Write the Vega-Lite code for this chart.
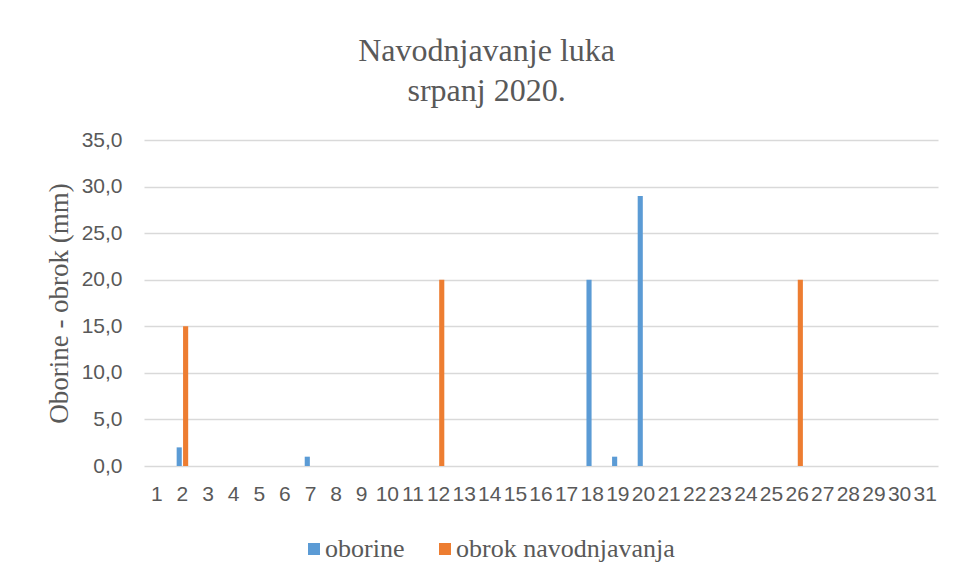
{
  "$schema": "https://vega.github.io/schema/vega-lite/v6.json",
  "autosize": "none",
  "width": 794,
  "height": 326,
  "padding": {"left": 144, "top": 140, "right": 15, "bottom": 117},
  "background": "white",
  "title": {
    "text": ["Navodnjavanje luka", "srpanj 2020."],
    "font": "Liberation Serif",
    "fontSize": 32,
    "fontWeight": "normal",
    "color": "#595959",
    "lineHeight": 40,
    "anchor": "middle",
    "frame": "bounds",
    "offset": 21,
    "dx": -5
  },
  "data": {
    "values": [
      {"dan": 1, "serija": "oborine", "mm": 0}, {"dan": 1, "serija": "obrok navodnjavanja", "mm": 0},
      {"dan": 2, "serija": "oborine", "mm": 2}, {"dan": 2, "serija": "obrok navodnjavanja", "mm": 15},
      {"dan": 3, "serija": "oborine", "mm": 0}, {"dan": 3, "serija": "obrok navodnjavanja", "mm": 0},
      {"dan": 4, "serija": "oborine", "mm": 0}, {"dan": 4, "serija": "obrok navodnjavanja", "mm": 0},
      {"dan": 5, "serija": "oborine", "mm": 0}, {"dan": 5, "serija": "obrok navodnjavanja", "mm": 0},
      {"dan": 6, "serija": "oborine", "mm": 0}, {"dan": 6, "serija": "obrok navodnjavanja", "mm": 0},
      {"dan": 7, "serija": "oborine", "mm": 1}, {"dan": 7, "serija": "obrok navodnjavanja", "mm": 0},
      {"dan": 8, "serija": "oborine", "mm": 0}, {"dan": 8, "serija": "obrok navodnjavanja", "mm": 0},
      {"dan": 9, "serija": "oborine", "mm": 0}, {"dan": 9, "serija": "obrok navodnjavanja", "mm": 0},
      {"dan": 10, "serija": "oborine", "mm": 0}, {"dan": 10, "serija": "obrok navodnjavanja", "mm": 0},
      {"dan": 11, "serija": "oborine", "mm": 0}, {"dan": 11, "serija": "obrok navodnjavanja", "mm": 0},
      {"dan": 12, "serija": "oborine", "mm": 0}, {"dan": 12, "serija": "obrok navodnjavanja", "mm": 20},
      {"dan": 13, "serija": "oborine", "mm": 0}, {"dan": 13, "serija": "obrok navodnjavanja", "mm": 0},
      {"dan": 14, "serija": "oborine", "mm": 0}, {"dan": 14, "serija": "obrok navodnjavanja", "mm": 0},
      {"dan": 15, "serija": "oborine", "mm": 0}, {"dan": 15, "serija": "obrok navodnjavanja", "mm": 0},
      {"dan": 16, "serija": "oborine", "mm": 0}, {"dan": 16, "serija": "obrok navodnjavanja", "mm": 0},
      {"dan": 17, "serija": "oborine", "mm": 0}, {"dan": 17, "serija": "obrok navodnjavanja", "mm": 0},
      {"dan": 18, "serija": "oborine", "mm": 20}, {"dan": 18, "serija": "obrok navodnjavanja", "mm": 0},
      {"dan": 19, "serija": "oborine", "mm": 1}, {"dan": 19, "serija": "obrok navodnjavanja", "mm": 0},
      {"dan": 20, "serija": "oborine", "mm": 29}, {"dan": 20, "serija": "obrok navodnjavanja", "mm": 0},
      {"dan": 21, "serija": "oborine", "mm": 0}, {"dan": 21, "serija": "obrok navodnjavanja", "mm": 0},
      {"dan": 22, "serija": "oborine", "mm": 0}, {"dan": 22, "serija": "obrok navodnjavanja", "mm": 0},
      {"dan": 23, "serija": "oborine", "mm": 0}, {"dan": 23, "serija": "obrok navodnjavanja", "mm": 0},
      {"dan": 24, "serija": "oborine", "mm": 0}, {"dan": 24, "serija": "obrok navodnjavanja", "mm": 0},
      {"dan": 25, "serija": "oborine", "mm": 0}, {"dan": 25, "serija": "obrok navodnjavanja", "mm": 0},
      {"dan": 26, "serija": "oborine", "mm": 0}, {"dan": 26, "serija": "obrok navodnjavanja", "mm": 20},
      {"dan": 27, "serija": "oborine", "mm": 0}, {"dan": 27, "serija": "obrok navodnjavanja", "mm": 0},
      {"dan": 28, "serija": "oborine", "mm": 0}, {"dan": 28, "serija": "obrok navodnjavanja", "mm": 0},
      {"dan": 29, "serija": "oborine", "mm": 0}, {"dan": 29, "serija": "obrok navodnjavanja", "mm": 0},
      {"dan": 30, "serija": "oborine", "mm": 0}, {"dan": 30, "serija": "obrok navodnjavanja", "mm": 0},
      {"dan": 31, "serija": "oborine", "mm": 0}, {"dan": 31, "serija": "obrok navodnjavanja", "mm": 0}
    ]
  },
  "mark": {"type": "bar"},
  "encoding": {
    "x": {
      "field": "dan",
      "type": "ordinal",
      "scale": {"paddingInner": 0.55, "paddingOuter": 0.275},
      "axis": {
        "title": null,
        "labelAngle": 0,
        "labelOverlap": false,
        "labelFont": "Liberation Sans",
        "labelFontSize": 21,
        "labelColor": "#595959",
        "labelPadding": 17,
        "ticks": false,
        "domain": false
      }
    },
    "xOffset": {
      "field": "serija",
      "type": "nominal",
      "sort": ["oborine", "obrok navodnjavanja"],
      "scale": {"paddingInner": 0.2}
    },
    "y": {
      "field": "mm",
      "type": "quantitative",
      "scale": {"domain": [0, 35]},
      "axis": {
        "title": "Oborine - obrok (mm)",
        "titleFont": "Liberation Serif",
        "titleFontSize": 27,
        "titleFontWeight": "normal",
        "titleColor": "#595959",
        "titlePadding": 8,
        "values": [0, 5, 10, 15, 20, 25, 30, 35],
        "labelExpr": "replace(format(datum.value, '.1f'), '.', ',')",
        "labelFont": "Liberation Sans",
        "labelFontSize": 21,
        "labelColor": "#595959",
        "labelPadding": 22,
        "ticks": false,
        "domain": false,
        "grid": true,
        "gridColor": "#d9d9d9",
        "gridWidth": 1.5
      }
    },
    "color": {
      "field": "serija",
      "type": "nominal",
      "sort": ["oborine", "obrok navodnjavanja"],
      "scale": {"domain": ["oborine", "obrok navodnjavanja"], "range": ["#5B9BD5", "#ED7D31"]},
      "legend": {
        "title": null,
        "orient": "none",
        "direction": "horizontal",
        "legendX": 157,
        "legendY": 396,
        "symbolType": "square",
        "symbolSize": 144,
        "symbolStrokeWidth": 0,
        "labelFont": "Liberation Serif",
        "labelFontSize": 26,
        "labelColor": "#595959",
        "labelLimit": 0,
        "labelOffset": -2,
        "columnPadding": 27
      }
    }
  },
  "config": {"view": {"stroke": null}}
}
